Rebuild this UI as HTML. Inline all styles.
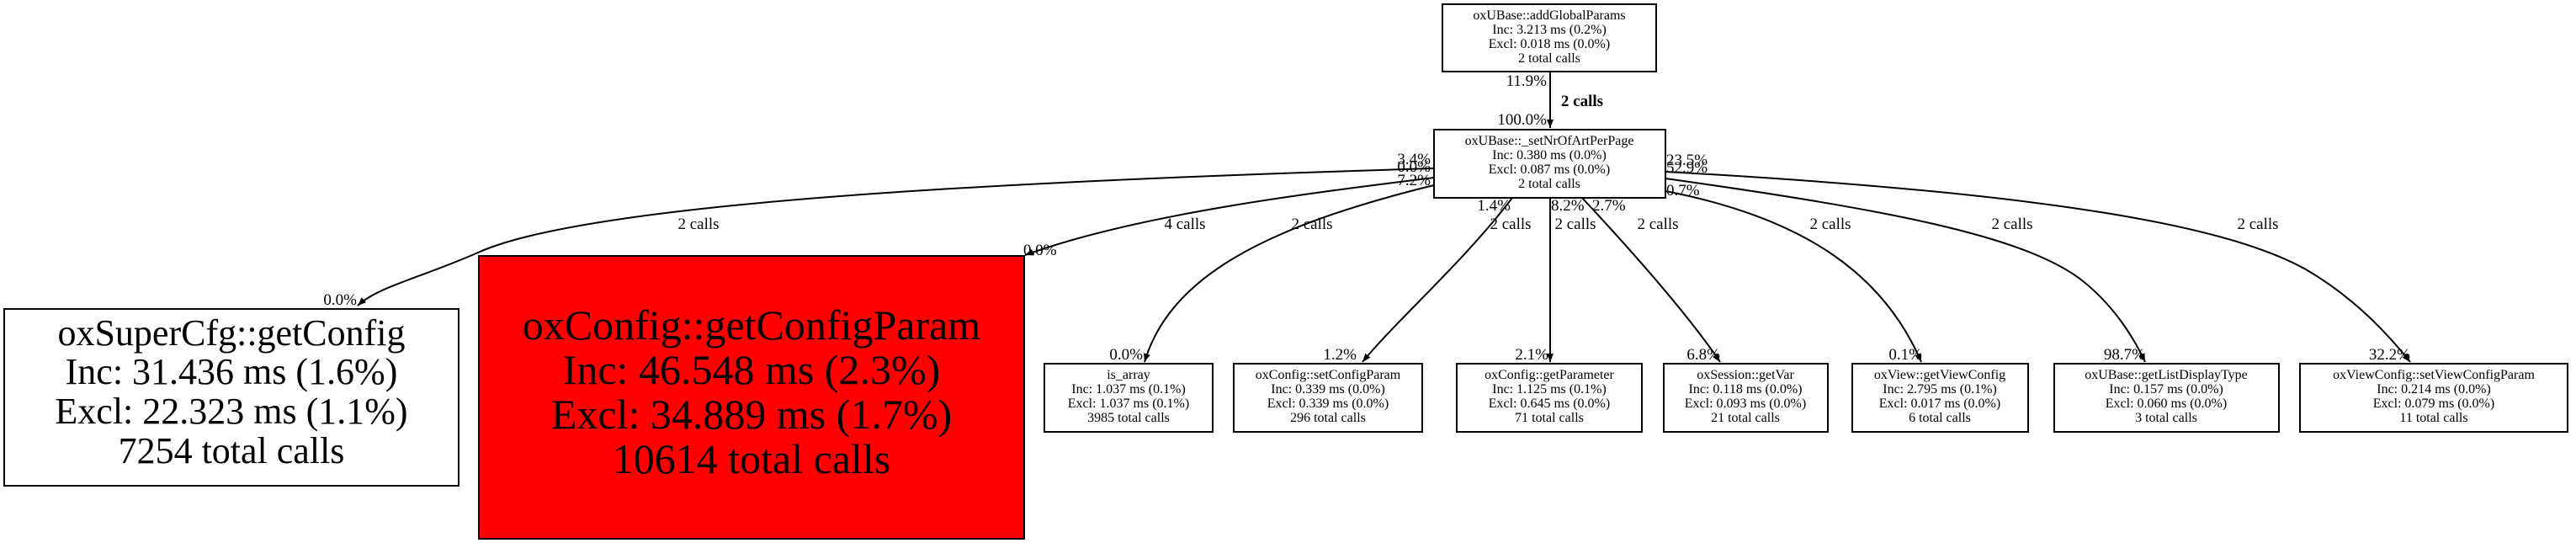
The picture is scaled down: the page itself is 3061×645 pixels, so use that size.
<!DOCTYPE html>
<html><head><meta charset="utf-8"><style>
html,body{margin:0;padding:0;background:#fff;}
svg{display:block;font-family:"Liberation Serif",serif;}
</style></head><body>
<svg width="3061" height="645" viewBox="0 0 3061 645" xmlns="http://www.w3.org/2000/svg">
<defs>
<marker id="a" markerWidth="10" markerHeight="8" refX="10" refY="4" orient="auto" markerUnits="userSpaceOnUse"><path d="M0,0 L10,4 L0,8 z" fill="#000"/></marker>
</defs>
<rect width="3061" height="645" fill="#fff"/>
<g fill="none" stroke="#000" stroke-width="2" marker-end="url(#a)">
<path d="M1842,85 L1842,152"/>
<path d="M1704,200 C1200,215 700,240 568,300 C500,330 450,340 425,363"/>
<path d="M1704,211 C1550,230 1350,255 1218,303"/>
<path d="M1704,220 C1500,270 1390,330 1360,430"/>
<path d="M1797,235 C1740,310 1660,380 1619,430"/>
<path d="M1842,235 L1842,430"/>
<path d="M1880,235 C1950,310 2010,380 2044,430"/>
<path d="M1979,227 C2150,260 2240,330 2283,430"/>
<path d="M1979,212 C2250,250 2400,280 2470,330 C2510,360 2535,400 2549,430"/>
<path d="M1979,204 C2450,230 2650,270 2740,320 C2800,355 2840,400 2864,430"/>
</g>
<g fill="#fff" stroke="#000" stroke-width="2">
<rect x="1714" y="5" width="254" height="80"/>
<rect x="1704" y="154" width="275" height="81"/>
<rect x="5" y="367" width="540" height="210"/>
<rect x="569" y="304" width="648" height="336" fill="#f00"/>
<rect x="1241" y="432" width="200" height="81"/>
<rect x="1466" y="432" width="224" height="81"/>
<rect x="1731" y="432" width="220" height="81"/>
<rect x="1977" y="432" width="195" height="81"/>
<rect x="2201" y="432" width="209" height="81"/>
<rect x="2441" y="432" width="267" height="81"/>
<rect x="2733" y="432" width="318" height="81"/>
</g>
<g text-anchor="middle" font-size="16">
<text x="1841" y="23">oxUBase::addGlobalParams</text><text x="1841" y="40">Inc: 3.213 ms (0.2%)</text><text x="1841" y="57">Excl: 0.018 ms (0.0%)</text><text x="1841" y="74">2 total calls</text>
<text x="1841" y="172">oxUBase::_setNrOfArtPerPage</text><text x="1841" y="189">Inc: 0.380 ms (0.0%)</text><text x="1841" y="206">Excl: 0.087 ms (0.0%)</text><text x="1841" y="223">2 total calls</text>
<text x="1341" y="450">is_array</text><text x="1341" y="467">Inc: 1.037 ms (0.1%)</text><text x="1341" y="484">Excl: 1.037 ms (0.1%)</text><text x="1341" y="501">3985 total calls</text>
<text x="1578" y="450">oxConfig::setConfigParam</text><text x="1578" y="467">Inc: 0.339 ms (0.0%)</text><text x="1578" y="484">Excl: 0.339 ms (0.0%)</text><text x="1578" y="501">296 total calls</text>
<text x="1841" y="450">oxConfig::getParameter</text><text x="1841" y="467">Inc: 1.125 ms (0.1%)</text><text x="1841" y="484">Excl: 0.645 ms (0.0%)</text><text x="1841" y="501">71 total calls</text>
<text x="2074" y="450">oxSession::getVar</text><text x="2074" y="467">Inc: 0.118 ms (0.0%)</text><text x="2074" y="484">Excl: 0.093 ms (0.0%)</text><text x="2074" y="501">21 total calls</text>
<text x="2305" y="450">oxView::getViewConfig</text><text x="2305" y="467">Inc: 2.795 ms (0.1%)</text><text x="2305" y="484">Excl: 0.017 ms (0.0%)</text><text x="2305" y="501">6 total calls</text>
<text x="2574" y="450">oxUBase::getListDisplayType</text><text x="2574" y="467">Inc: 0.157 ms (0.0%)</text><text x="2574" y="484">Excl: 0.060 ms (0.0%)</text><text x="2574" y="501">3 total calls</text>
<text x="2892" y="450">oxViewConfig::setViewConfigParam</text><text x="2892" y="467">Inc: 0.214 ms (0.0%)</text><text x="2892" y="484">Excl: 0.079 ms (0.0%)</text><text x="2892" y="501">11 total calls</text>
</g>
<g text-anchor="middle" font-size="44">
<text x="275" y="410">oxSuperCfg::getConfig</text><text x="275" y="456">Inc: 31.436 ms (1.6%)</text><text x="275" y="503">Excl: 22.323 ms (1.1%)</text><text x="275" y="550">7254 total calls</text>
</g>
<g text-anchor="middle" font-size="50">
<text x="893" y="403">oxConfig::getConfigParam</text><text x="893" y="456">Inc: 46.548 ms (2.3%)</text><text x="893" y="509">Excl: 34.889 ms (1.7%)</text><text x="893" y="562">10614 total calls</text>
</g>
<g font-size="19" text-anchor="middle">
<text x="1880" y="126" font-weight="bold">2 calls</text>
<text x="830" y="272">2 calls</text>
<text x="1408" y="272">4 calls</text>
<text x="1559" y="272">2 calls</text>
<text x="1795" y="272">2 calls</text>
<text x="1872" y="272">2 calls</text>
<text x="1970" y="272">2 calls</text>
<text x="2175" y="272">2 calls</text>
<text x="2391" y="272">2 calls</text>
<text x="2683" y="272">2 calls</text>
</g>
<g font-size="19" text-anchor="end">
<text x="1838" y="102">11.9%</text>
<text x="1838" y="148">100.0%</text>
<text x="1700" y="195">3.4%</text>
<text x="1700" y="204">0.0%</text>
<text x="1700" y="220">7.2%</text>
<text x="1795" y="250">1.4%</text>
<text x="424" y="362">0.0%</text>
<text x="1358" y="427">0.0%</text>
<text x="1612" y="427">1.2%</text>
<text x="1840" y="427">2.1%</text>
<text x="2044" y="427">6.8%</text>
<text x="2284" y="427">0.1%</text>
<text x="2549" y="427">98.7%</text>
<text x="2864" y="427">32.2%</text>
</g>
<g font-size="19">
<text x="1216" y="303">0.0%</text>
<text x="1843" y="250">8.2%</text>
<text x="1892" y="250">2.7%</text>
<text x="1980" y="196">23.5%</text>
<text x="1980" y="205">52.9%</text>
<text x="1980" y="232">0.7%</text>
</g>
</svg>
</body></html>
